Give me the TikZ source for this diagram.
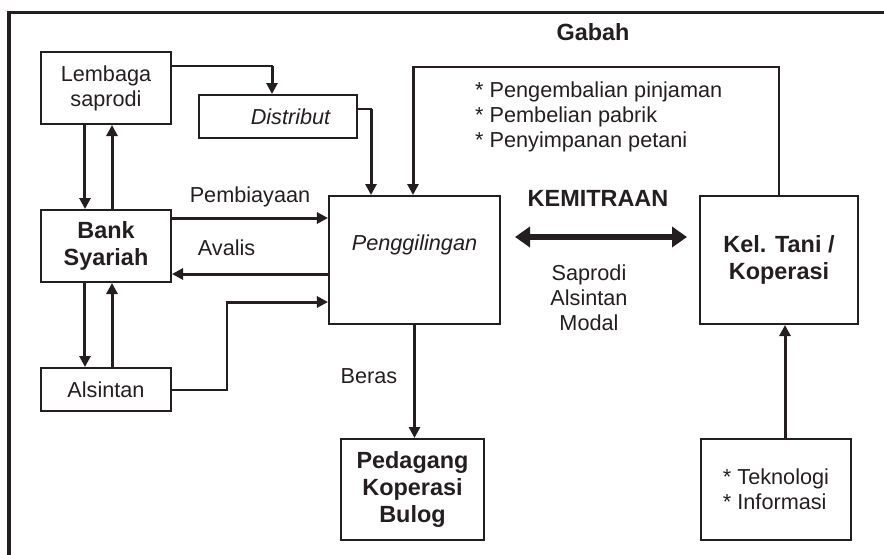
\documentclass[tikz,border=0pt]{standalone}
\usepackage{fontspec}
\setmainfont{Liberation Sans}
\usepackage{tikz}
\usetikzlibrary{positioning, arrows.meta, calc}
\definecolor{inkblack}{RGB}{35, 31, 32}

\begin{document}
\begin{tikzpicture}[
    x=0.03cm, y=-0.03cm,
    box/.style={rectangle, draw=inkblack, line width=0.06cm, inner sep=0pt, align=center, text=inkblack, font=\fontsize{18.5}{21.3}\selectfont},
    boldbox/.style={box, font=\fontsize{20}{23}\selectfont\bfseries},
    tag/.style={text=inkblack, inner sep=0pt, align=center, font=\fontsize{18.5}{21.3}\selectfont},
    boldtag/.style={tag, font=\fontsize{20}{23}\selectfont\bfseries},
    arrow/.style={draw=inkblack, line width=0.09cm, -{Triangle[length=0.33cm, width=0.33cm]}},
    feed/.style={draw=inkblack, line width=0.06cm, line cap=rect},
    partner/.style={draw=inkblack, line width=0.2cm, {Triangle[length=0.45cm, width=0.6cm]}-{Triangle[length=0.45cm, width=0.6cm]}}
]
    \useasboundingbox (0,0) rectangle (884,555);

    % Frame
    \draw[draw=inkblack, line width=0.105cm] (8.8,560) -- (8.8,12.5) -- (890,12.5);

    % Left column
    \node[box, minimum width=3.9cm, minimum height=2.16cm] (lem) at (106,88) {Lembaga\\saprodi};
    \node[boldbox, minimum width=3.9cm, minimum height=2.16cm] (bank) at (106,246) {Bank\\Syariah};
    \node[box, minimum width=3.9cm, minimum height=1.29cm] (als) at (106,389.5) {Alsintan};

    % Distribut
    \node[box, text width=3.18cm, inner xsep=0.78cm, align=right, minimum height=1.29cm] (dis) at (278,116.5) {\textit{Distribut}};

    % Penggilingan
    \node[box, minimum width=5.13cm, minimum height=3.84cm, text height=0.6cm, text depth=1.18cm] (ggl) at (414.5,260) {\textit{Penggilingan}};

    % Kel. Tani
    \node[boldbox, minimum width=4.74cm, minimum height=3.84cm] (kel) at (779,260) {Kel. Tani /\\Koperasi};

    % Pedagang
    \node[boldbox, minimum width=4.29cm, minimum height=3.03cm] (ped) at (412.5,489.5) {Pedagang\\Koperasi\\Bulog};

    % Teknologi
    \node[box, minimum width=4.5cm, minimum height=3.03cm, align=left] (tek) at (776,489.5) {* Teknologi\\* Informasi};

    % Texts
    \node[boldtag] (gabah) at (593,32) {Gabah};
    \node[tag, align=left, anchor=north west] (hasil) at (475,82) {* Pengembalian pinjaman\\* Pembelian pabrik\\* Penyimpanan petani};
    \node[boldtag] (kemitraan) at (598,198) {KEMITRAAN};
    \node[tag] (bantuan) at (589,298) {Saprodi\\Alsintan\\Modal};

    \coordinate (c1) at (272,66);
    \coordinate (c2) at (371,109);
    \coordinate (c3) at (413,67);
    \coordinate (c4) at (227,302);

    \draw[feed] (lem.east |- c1) -- (c1);
    \draw[arrow] (c1) -- (c1 |- dis.north);
    \draw[feed] (dis.east |- c2) -- (c2);
    \draw[arrow] (c2) -- (c2 |- ggl.north);
    \draw[feed] (kel.north) |- (c3);
    \draw[arrow] (c3) -- (c3 |- ggl.north);

    \draw[arrow] ([xshift=-0.63cm]lem.south) -- ([xshift=-0.63cm]bank.north);
    \draw[arrow] ([xshift=0.18cm]bank.north) -- ([xshift=0.18cm]lem.south);
    \draw[arrow] ([xshift=-0.63cm]bank.south) -- ([xshift=-0.63cm]als.north);
    \draw[arrow] ([xshift=0.18cm]als.north) -- ([xshift=0.18cm]bank.south);

    \draw[arrow] ([yshift=0.84cm]bank.east) -- ([yshift=0.84cm]bank.east -| ggl.west) node[tag, midway, above=0.29cm] (pemb) {Pembiayaan};
    \draw[arrow] ([yshift=-0.42cm]ggl.west) -- ([yshift=-0.42cm]ggl.west -| bank.east) node[tag, pos=0.65, above=0.51cm] (aval) {Avalis};
    \draw[feed] (als.east) -| (c4);
    \draw[arrow] (c4) -- (c4 -| ggl.west);

    \draw[arrow] (ggl.south) -- (ggl.south |- ped.north) node[tag, pos=0.45, left=0.47cm] (beras) {Beras};
    \draw[arrow] ([xshift=0.27cm]tek.north) -- ([xshift=0.27cm]tek.north |- kel.south);

    \draw[partner, shorten <=0.42cm, shorten >=0.36cm] ([yshift=0.69cm]ggl.east) -- ([yshift=0.69cm]kel.west);
\end{tikzpicture}
\end{document}
